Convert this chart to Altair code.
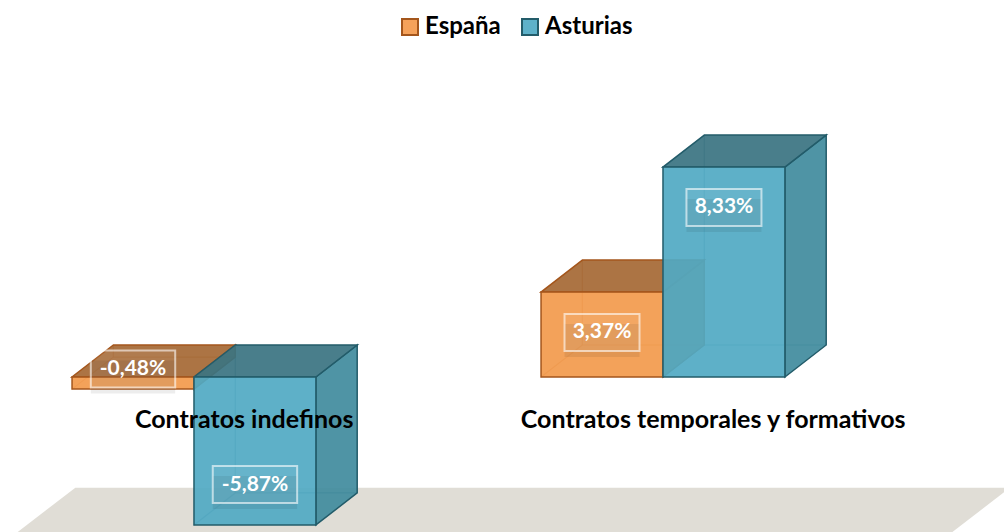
import altair as alt
import pandas as pd

# ---------------- data ----------------
categories = ["Contratos indefinos", "Contratos temporales y formativos"]
series = ["España", "Asturias"]
espana = [-0.48, 3.37]
asturias = [-5.87, 8.33]

# ---------------- style / geometry ----------------
front_colors = ["#F29A4C", "#50A9C3"]
legend_fill = ["#F5A25B", "#5EB1C9"]
top_colors = ["#A56834", "#3A7381"]
side_colors = ["#B8702F", "#408B9D"]
edge_colors = ["#A4561C", "#235C6A"]
FLOOR_COLOR = "#E0DDD6"
FONT = "Lato"
FACE_OPACITY = 0.92

BAR_W = 0.26        # bar width in category units
DEPTH_X = 0.088     # 3D depth offset (x, category units)
DEPTH_Y = 1.27      # 3D depth offset (y, percentage points)
X_DOMAIN = [-0.4136, 1.7271]
Y_DOMAIN = [-6.15, 14.96]
FLOOR_LEVEL = -8.0
FLOOR_DEPTH_Y = 3.61
FLOOR_DEPTH_X = 0.252
FLOOR_X = [-0.505, 1.488]

W, H = 1004, 532
PX_PER_X = W / (X_DOMAIN[1] - X_DOMAIN[0])
PX_PER_Y = H / (Y_DOMAIN[1] - Y_DOMAIN[0])

values = {"España": espana, "Asturias": asturias}

front, top, side, edges, boxes = [], [], [], [], []
bar_id = 0
for ci, cat in enumerate(categories):
    for si, s in enumerate(series):
        v = values[s][ci]
        x0 = ci - BAR_W if si == 0 else ci
        x1 = x0 + BAR_W
        lo, hi = min(v, 0), max(v, 0)
        ec = edge_colors[si]
        front.append(dict(bar=bar_id, series=s, x0=x0, x1=x1, lo=lo, hi=hi,
                          fill=front_colors[si], stroke=ec,
                          # legend carrier sits outside the visible view (clipped)
                          mx=(x0 + x1) / 2, my=Y_DOMAIN[0] - 10))
        top.append(dict(bar=bar_id, y=hi, xa=x0, xb=x1, fill=top_colors[si], stroke=ec))
        top.append(dict(bar=bar_id, y=hi + DEPTH_Y, xa=x0 + DEPTH_X, xb=x1 + DEPTH_X,
                        fill=top_colors[si], stroke=ec))
        side.append(dict(bar=bar_id, x=x1, ya=lo, yb=hi, fill=side_colors[si], stroke=ec))
        side.append(dict(bar=bar_id, x=x1 + DEPTH_X, ya=lo + DEPTH_Y, yb=hi + DEPTH_Y,
                         fill=side_colors[si], stroke=ec))
        # hidden (back) edges seen through the transparent box
        bx, by = x0 + DEPTH_X, lo + DEPTH_Y
        edges.append(dict(x=bx, y=by, x2=bx, y2=hi + DEPTH_Y, stroke=ec))
        edges.append(dict(x=bx, y=by, x2=x1 + DEPTH_X, y2=by, stroke=ec))
        edges.append(dict(x=x0, y=lo, x2=bx, y2=by, stroke=ec))
        # data label
        txt = f"{v:.2f}%".replace(".", ",")
        if abs(v) > 1:
            ly = v - (1.6 if v > 0 else -1.6)
        else:
            ly = v + 0.8
        cx = (x0 + x1) / 2
        hw = (14 + 4.7 * len(txt)) / PX_PER_X
        hh = 18.5 / PX_PER_Y
        boxes.append(dict(cx=cx, cy=ly, bx0=cx - hw, bx1=cx + hw, by0=ly - hh, by1=ly + hh,
                          sy0=ly - hh - 6 / PX_PER_Y, sy1=ly + hh - 10 / PX_PER_Y, text=txt))
        bar_id += 1

front_df = pd.DataFrame(front)
top_df = pd.DataFrame(top)
side_df = pd.DataFrame(side)
edge_df = pd.DataFrame(edges)
box_df = pd.DataFrame(boxes)
cat_df = pd.DataFrame(dict(x=[i + 0.107 for i in range(len(categories))],
                           y=[-1.71] * len(categories), text=categories))
floor_df = pd.DataFrame(dict(
    y=[FLOOR_LEVEL, FLOOR_LEVEL + FLOOR_DEPTH_Y],
    xa=[FLOOR_X[0], FLOOR_X[0] + FLOOR_DEPTH_X],
    xb=[FLOOR_X[1], FLOOR_X[1] + FLOOR_DEPTH_X],
))

xs = alt.Scale(domain=X_DOMAIN, nice=False, zero=False)
ys = alt.Scale(domain=Y_DOMAIN, nice=False, zero=False)

floor = alt.Chart(floor_df).mark_area(orient="horizontal", color=FLOOR_COLOR, clip=True).encode(
    y=alt.Y("y:Q", scale=ys, axis=None),
    x=alt.X("xa:Q", scale=xs, axis=None),
    x2="xb:Q",
)

legend = alt.Legend(
    title=None, orient="none", legendX=398, legendY=15, direction="horizontal",
    symbolType="square", symbolSize=256, symbolStrokeWidth=2, symbolOpacity=1,
    labelFont=FONT, labelFontWeight="bold", labelFontSize=24, labelColor="#000000",
    labelOffset=3, columnPadding=17,
)

# squares that only carry the legend (placed outside the view and clipped)
legend_carrier = alt.Chart(front_df).mark_square(
    size=1, filled=True, opacity=1, strokeWidth=2, clip=True
).encode(
    x=alt.X("mx:Q", scale=xs, axis=None), y=alt.Y("my:Q", scale=ys, axis=None),
    fill=alt.Fill("series:N", scale=alt.Scale(domain=series, range=legend_fill), legend=legend),
    stroke=alt.Stroke("series:N", scale=alt.Scale(domain=series, range=edge_colors), legend=legend),
)

hidden = alt.Chart(edge_df).mark_rule(strokeWidth=1.2, opacity=0.55).encode(
    x=alt.X("x:Q", scale=xs, axis=None), y=alt.Y("y:Q", scale=ys, axis=None),
    x2="x2:Q", y2="y2:Q",
    stroke=alt.Stroke("stroke:N", scale=None),
)

sides = alt.Chart(side_df).mark_area(orient="vertical", fillOpacity=FACE_OPACITY, strokeWidth=1.5).encode(
    x=alt.X("x:Q", scale=xs, axis=None),
    y=alt.Y("ya:Q", scale=ys, axis=None), y2="yb:Q",
    detail="bar:N",
    fill=alt.Fill("fill:N", scale=None),
    stroke=alt.Stroke("stroke:N", scale=None),
)

tops = alt.Chart(top_df).mark_area(orient="horizontal", fillOpacity=FACE_OPACITY, strokeWidth=1.5).encode(
    y=alt.Y("y:Q", scale=ys, axis=None),
    x=alt.X("xa:Q", scale=xs, axis=None), x2="xb:Q",
    detail="bar:N",
    fill=alt.Fill("fill:N", scale=None),
    stroke=alt.Stroke("stroke:N", scale=None),
)

fronts = alt.Chart(front_df).mark_rect(fillOpacity=FACE_OPACITY, strokeWidth=1.5).encode(
    x=alt.X("x0:Q", scale=xs, axis=None), x2="x1:Q",
    y=alt.Y("lo:Q", scale=ys, axis=None), y2="hi:Q",
    fill=alt.Fill("fill:N", scale=None),
    stroke=alt.Stroke("stroke:N", scale=None),
)

label_shadow = alt.Chart(box_df).mark_rect(fill="#000000", opacity=0.07).encode(
    x=alt.X("bx0:Q", scale=xs, axis=None), x2="bx1:Q",
    y=alt.Y("sy0:Q", scale=ys, axis=None), y2="sy1:Q",
)

label_boxes = alt.Chart(box_df).mark_rect(
    fill="#FFFFFF", fillOpacity=0.06, stroke="#FFFFFF", strokeOpacity=0.6, strokeWidth=2
).encode(
    x=alt.X("bx0:Q", scale=xs, axis=None), x2="bx1:Q",
    y=alt.Y("by0:Q", scale=ys, axis=None), y2="by1:Q",
)

label_text = alt.Chart(box_df).mark_text(
    font=FONT, fontWeight="bold", fontSize=21, color="#FFFFFF", align="center", baseline="middle"
).encode(
    x=alt.X("cx:Q", scale=xs, axis=None), y=alt.Y("cy:Q", scale=ys, axis=None), text="text:N",
)

cat_text = alt.Chart(cat_df).mark_text(
    font=FONT, fontWeight="bold", fontSize=25, color="#000000", align="center", baseline="middle"
).encode(
    x=alt.X("x:Q", scale=xs, axis=None), y=alt.Y("y:Q", scale=ys, axis=None), text="text:N",
)

chart = alt.layer(
    floor, legend_carrier, hidden, sides, tops, fronts, cat_text, label_shadow, label_boxes, label_text
).properties(
    width=W, height=H, padding=0, autosize=alt.AutoSizeParams(type="none"),
    background="#FFFFFF",
).configure_view(stroke=None)

chart.save("out.html", embed_options={"renderer": "svg", "actions": False})
